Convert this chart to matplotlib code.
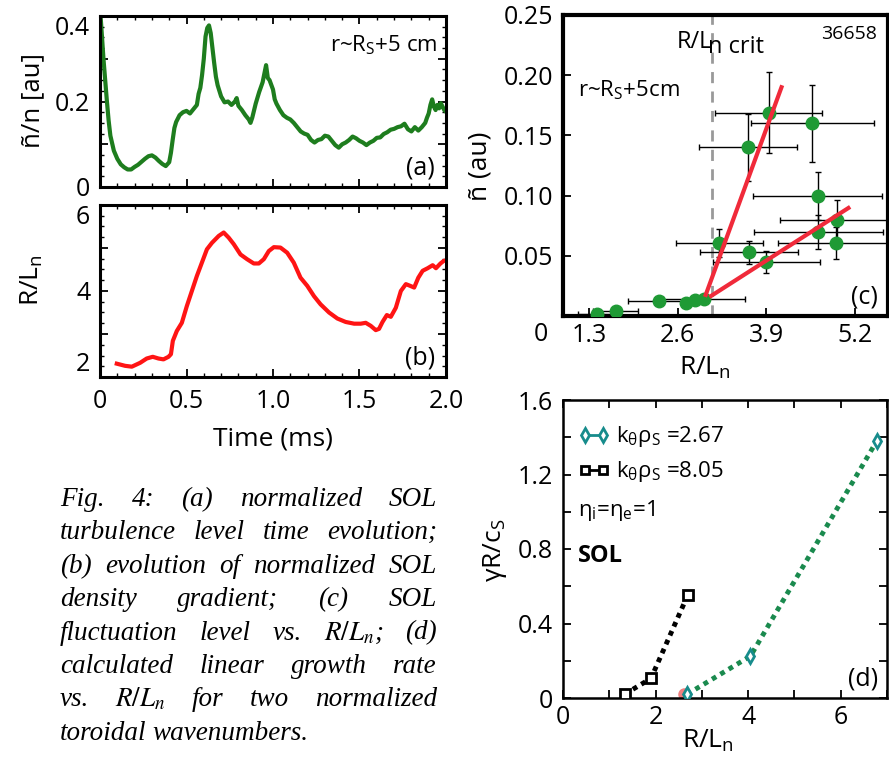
# Fig. 4 - SOL turbulence level, density gradient and growth rates

import matplotlib.pyplot as plt
from matplotlib.lines import Line2D
from matplotlib.ticker import AutoMinorLocator

plt.rcParams['font.family'] = ['Open Sans', 'DejaVu Sans']
plt.rcParams['mathtext.fontset'] = 'custom'
plt.rcParams['mathtext.rm'] = 'Open Sans'
plt.rcParams['mathtext.it'] = 'Open Sans:italic'
plt.rcParams['mathtext.bf'] = 'Open Sans:bold'
plt.rcParams['mathtext.default'] = 'regular'
plt.rcParams['xtick.direction'] = 'in'
plt.rcParams['ytick.direction'] = 'in'

# (a) normalized fluctuation level vs time
t_a = [0.00, 0.01, 0.02, 0.03, 0.04, 0.05, 0.06, 0.08, 0.10, 0.12,
       0.14, 0.16, 0.18, 0.20, 0.22, 0.24, 0.26, 0.28, 0.30, 0.32,
       0.34, 0.36, 0.38, 0.40, 0.41, 0.42, 0.43, 0.44, 0.46, 0.48,
       0.50, 0.52, 0.54, 0.56, 0.57, 0.58, 0.59, 0.60, 0.61, 0.62,
       0.63, 0.64, 0.65, 0.66, 0.67, 0.68, 0.70, 0.72, 0.74, 0.76,
       0.78, 0.79, 0.80, 0.82, 0.84, 0.86, 0.87, 0.88, 0.90, 0.92,
       0.94, 0.95, 0.96, 0.97, 0.98, 1.00, 1.01, 1.02, 1.04, 1.06,
       1.08, 1.10, 1.12, 1.14, 1.16, 1.18, 1.20, 1.22, 1.24, 1.26,
       1.28, 1.30, 1.32, 1.34, 1.36, 1.38, 1.40, 1.42, 1.44, 1.46,
       1.48, 1.50, 1.52, 1.54, 1.56, 1.58, 1.60, 1.62, 1.64, 1.66,
       1.68, 1.70, 1.72, 1.74, 1.76, 1.78, 1.80, 1.82, 1.84, 1.86,
       1.88, 1.89, 1.90, 1.91, 1.92, 1.93, 1.94, 1.95, 1.96, 1.97,
       1.98, 1.99, 2.00]
n_a = [0.42, 0.36, 0.30, 0.25, 0.20, 0.155, 0.12, 0.085, 0.066, 0.053,
       0.046, 0.041, 0.041, 0.047, 0.052, 0.059, 0.066, 0.072, 0.074, 0.069,
       0.061, 0.054, 0.049, 0.058, 0.080, 0.110, 0.138, 0.152, 0.168, 0.175,
       0.178, 0.172, 0.182, 0.192, 0.218, 0.232, 0.262, 0.300, 0.352, 0.372,
       0.378, 0.360, 0.325, 0.290, 0.258, 0.238, 0.212, 0.198, 0.200, 0.192,
       0.200, 0.208, 0.190, 0.180, 0.168, 0.158, 0.150, 0.162, 0.195, 0.222,
       0.245, 0.265, 0.285, 0.255, 0.250, 0.228, 0.205, 0.195, 0.180, 0.168,
       0.162, 0.158, 0.150, 0.140, 0.130, 0.125, 0.122, 0.110, 0.104, 0.110,
       0.112, 0.120, 0.118, 0.108, 0.098, 0.092, 0.100, 0.104, 0.110, 0.118,
       0.114, 0.108, 0.104, 0.098, 0.104, 0.108, 0.115, 0.116, 0.124, 0.128,
       0.134, 0.136, 0.140, 0.142, 0.148, 0.135, 0.130, 0.140, 0.132, 0.140,
       0.150, 0.162, 0.172, 0.192, 0.205, 0.188, 0.180, 0.192, 0.184, 0.196,
       0.188, 0.180, 0.176]

# (b) R/Ln vs time
t_b = [0.097, 0.145, 0.184, 0.232, 0.27, 0.305, 0.338, 0.367, 0.396, 0.41,
       0.421, 0.444, 0.473, 0.502, 0.531, 0.56, 0.589, 0.618, 0.647, 0.686,
       0.715, 0.744, 0.773, 0.812, 0.85, 0.889, 0.918, 0.947, 0.976, 1.005,
       1.043, 1.082, 1.12, 1.159, 1.198, 1.237, 1.275, 1.324, 1.372, 1.42,
       1.469, 1.507, 1.536, 1.565, 1.594, 1.613, 1.633, 1.658, 1.681, 1.71,
       1.739, 1.768, 1.793, 1.816, 1.84, 1.865, 1.894, 1.923, 1.942, 1.968,
       1.987, 2.0]
rln_b = [2.31, 2.26, 2.24, 2.33, 2.43, 2.47, 2.43, 2.41, 2.47, 2.53,
         2.84, 3.07, 3.26, 3.65, 4.0, 4.35, 4.66, 4.97, 5.12, 5.28,
         5.36, 5.24, 5.09, 4.85, 4.74, 4.64, 4.64, 4.74, 4.93, 5.02,
         5.01, 4.89, 4.66, 4.31, 4.12, 3.88, 3.69, 3.5, 3.36, 3.28,
         3.24, 3.24, 3.26, 3.19, 3.09, 3.12, 3.28, 3.44, 3.4, 3.61,
         4.0, 4.16, 4.12, 4.08, 4.31, 4.47, 4.53, 4.6, 4.53, 4.64,
         4.7, 4.71]

# (c) fluctuation level vs R/Ln
rln_c = [1.42, 1.69, 2.32, 2.72, 2.85, 2.98, 3.21, 3.64, 3.90, 3.63,
         3.93, 4.57, 4.65, 4.66, 4.93, 4.92]
nt_c = [0.002, 0.0045, 0.0125, 0.0106, 0.0133, 0.014, 0.0606, 0.053, 0.045, 0.14,
        0.169, 0.16, 0.10, 0.070, 0.080, 0.0606]
xerr_c = [0.28, 0.33, 0.45, 0.0, 0.0, 0.6, 0.64, 0.72, 0.78, 0.72,
          0.79, 0.9, 0.94, 0.94, 0.83, 0.85]
yerr_c = [0, 0, 0, 0, 0, 0, 0.012, 0.0095, 0.009, 0.0275,
          0.034, 0.032, 0.02, 0.014, 0.016, 0.013]
fit1_x = [3.01, 4.12]
fit1_y = [0.0175, 0.19]
fit2_x = [3.09, 5.10]
fit2_y = [0.0167, 0.0897]
rln_crit = 3.1

# (d) growth rate vs R/Ln
rln_k1 = [2.68, 4.05, 6.78]
gam_k1 = [0.02, 0.225, 1.38]
rln_k2 = [1.33, 1.9, 2.7]
gam_k2 = [0.02, 0.105, 0.555]

caption = ["Fig. 4: (a) normalized SOL",
           "turbulence level time evolution;",
           "(b) evolution of normalized SOL",
           "density gradient; (c) SOL",
           r"fluctuation level vs. $\mathit{R/L_n}$; (d)",
           "calculated linear growth rate",
           r"vs. $\mathit{R/L_n}$ for two normalized",
           "toroidal wavenumbers."]

W, H = 889, 760
fig = plt.figure(figsize=(W / 100, H / 100), dpi=100)


def box(left, top, right, bottom):
    return [left / W, 1 - bottom / H, (right - left) / W, (bottom - top) / H]


def style(ax, lw, minor=True):
    for s in ax.spines.values():
        s.set_linewidth(lw)
    ax.tick_params(which='both', top=True, right=True, labelsize=18, width=1.3, length=6, pad=7)
    if minor:
        ax.xaxis.set_minor_locator(AutoMinorLocator(5))
        ax.yaxis.set_minor_locator(AutoMinorLocator(4))
        ax.tick_params(which='minor', length=3, width=1)


def ylabel_at(text, px, py, size=19):
    # vertical axis title centred on a pixel position
    fig.text(px / W, 1 - py / H, text, rotation=90, ha='center', va='center', fontsize=size)


green = '#1e7d1e'
red = '#ff1414'

# (a)
ax_a = fig.add_axes(box(100, 16, 446, 187))
ax_a.plot(t_a, n_a, color=green, lw=3)
ax_a.set_xlim(0, 2)
ax_a.set_ylim(0, 0.4)
ax_a.set_xticks([0, 0.5, 1.0, 1.5, 2.0])
ax_a.set_xticklabels([])
ax_a.set_yticks([0, 0.1, 0.2, 0.3, 0.4])
ax_a.set_yticklabels(['0', '', '0.2', '', '0.4'])
style(ax_a, 2.2)
ax_a.get_yticklabels()[-1].set_va('top')
ylabel_at('ñ/n [au]', 33, 100, 18.5)
ax_a.text(0.974, 0.83, 'r~R$_S$+5 cm', transform=ax_a.transAxes, ha='right', va='center', fontsize=16)
ax_a.text(0.968, 0.11, '(a)', transform=ax_a.transAxes, ha='right', va='center', fontsize=18)

# (b)
ax_b = fig.add_axes(box(100, 205, 446, 377))
ax_b.plot(t_b, rln_b, color=red, lw=3)
ax_b.set_xlim(0, 2)
ax_b.set_ylim(2, 6)
ax_b.set_xticks([0, 0.5, 1.0, 1.5, 2.0])
ax_b.set_xticklabels(['0', '0.5', '1.0', '1.5', '2.0'])
ax_b.set_yticks([2, 3, 4, 5, 6])
ax_b.set_yticklabels(['2', '', '4', '', '6'])
style(ax_b, 2.2)
ax_b.get_yticklabels()[0].set_va('bottom')
ax_b.get_yticklabels()[-1].set_va('top')
ax_b.tick_params(axis='x', pad=9)
ylabel_at('R/L$_n$', 32, 280)
ax_b.set_xlabel('Time (ms)', fontsize=19)
ax_b.xaxis.set_label_coords(0.5, -0.29)
ax_b.text(0.968, 0.11, '(b)', transform=ax_b.transAxes, ha='right', va='center', fontsize=18)

# (c)
ax_c = fig.add_axes(box(563, 15, 888, 316))
ax_c.axvline(rln_crit, color='#999999', lw=2, dashes=(4, 3), zorder=1)
ax_c.errorbar(rln_c, nt_c, xerr=xerr_c, yerr=yerr_c, fmt='none', ecolor='black',
              elinewidth=1, capsize=2, capthick=1, zorder=2)
ax_c.plot(rln_c, nt_c, 'o', color='#1f9a35', ms=9, zorder=3)
ax_c.plot(fit1_x, fit1_y, color='#f02a3a', lw=3, zorder=4)
ax_c.plot(fit2_x, fit2_y, color='#f02a3a', lw=3, zorder=4)
ax_c.set_xlim(0.92, 5.68)
ax_c.set_ylim(0, 0.25)
ax_c.set_xticks([1.3, 2.6, 3.9, 5.2])
ax_c.set_xticklabels(['1.3', '2.6', '3.9', '5.2'])
ax_c.set_yticks([0.05, 0.10, 0.15, 0.20, 0.25])
ax_c.set_yticklabels(['0.05', '0.10', '0.15', '0.20', '0.25'])
style(ax_c, 3, minor=False)
ax_c.tick_params(top=False, right=False)
ax_c.tick_params(axis='x', pad=5)
ax_c.text(-0.045, -0.063, '0', transform=ax_c.transAxes, ha='right', va='center', fontsize=18)
ylabel_at('ñ (au)', 480, 166)
ax_c.set_xlabel('R/L$_n$', fontsize=19)
ax_c.xaxis.set_label_coords(0.437, -0.13)
ax_c.text(0.351, 0.89, 'R/L', transform=ax_c.transAxes, ha='left', va='baseline', fontsize=17)
ax_c.text(0.446, 0.874, 'n crit', transform=ax_c.transAxes, ha='left', va='baseline', fontsize=17)
ax_c.text(0.966, 0.937, '36658', transform=ax_c.transAxes, ha='right', va='center', fontsize=14)
ax_c.text(0.046, 0.75, 'r~R$_S$+5cm', transform=ax_c.transAxes, ha='left', va='center', fontsize=16)
ax_c.text(0.969, 0.063, '(c)', transform=ax_c.transAxes, ha='right', va='center', fontsize=18)

# (d)
teal = '#178c8c'
ax_d = fig.add_axes(box(563, 400, 887, 698))
ax_d.plot([2.62], [0.02], 'o', color='#f08080', ms=8, zorder=2)
ax_d.plot(rln_k1, gam_k1, color='#1a8a4e', lw=3.5, dashes=(1, 1), zorder=1)
ax_d.plot(rln_k1, gam_k1, 'd', ms=7, mfc='white', mec=teal, mew=2, zorder=3)
ax_d.plot(rln_k2, gam_k2, color='black', lw=3.5, dashes=(1, 1), zorder=1)
ax_d.plot(rln_k2, gam_k2, 's', ms=7, mfc='white', mec='black', mew=2, zorder=3)
ax_d.set_xlim(0, 7)
ax_d.set_ylim(0, 1.6)
ax_d.set_xticks(range(8))
ax_d.set_xticklabels(['0', '', '2', '', '4', '', '6', ''])
ax_d.set_yticks([0, 0.2, 0.4, 0.6, 0.8, 1.0, 1.2, 1.4, 1.6])
ax_d.set_yticklabels(['0', '', '0.4', '', '0.8', '', '1.2', '', '1.6'])
style(ax_d, 1.8, minor=False)
ax_d.tick_params(axis='x', pad=5)
ylabel_at('γR/c$_S$', 495, 550)
ax_d.set_xlabel('R/L$_n$', fontsize=19)
ax_d.xaxis.set_label_coords(0.447, -0.1)
handles = [Line2D([], [], color=teal, lw=2, marker='d', ms=7, mfc='white', mec=teal, mew=2),
           Line2D([], [], color='black', lw=2, marker='s', ms=6, mfc='white', mec='black', mew=2)]
ax_d.legend(handles, ['k$_θ$ρ$_S$ =2.67', 'k$_θ$ρ$_S$ =8.05'], loc='upper left',
            bbox_to_anchor=(0.0, 0.97), frameon=False, fontsize=16, numpoints=2,
            handlelength=1.4, handletextpad=0.3, labelspacing=0.45, borderaxespad=0.3)
ax_d.text(0.045, 0.63, 'η$_i$=η$_e$=1', transform=ax_d.transAxes, ha='left', va='center', fontsize=16)
ax_d.text(0.045, 0.476, 'SOL', transform=ax_d.transAxes, ha='left', va='center', fontsize=17,
          fontweight='bold')
ax_d.text(0.972, 0.064, '(d)', transform=ax_d.transAxes, ha='right', va='center', fontsize=18)

# caption, justified between two edges
fig.canvas.draw()
rend = fig.canvas.get_renderer()
cap_kw = dict(fontsize=19.5, family='Liberation Serif', style='italic', va='baseline',
              math_fontfamily='stix')
x_left, x_right = 60 / W, 437 / W
for i, line in enumerate(caption):
    y = 1 - (506 + 33.4 * i) / H
    words = line.split(' ')
    texts = [fig.text(0, y, w, **cap_kw) for w in words]
    widths = [t.get_window_extent(rend).width / W for t in texts]
    if i == len(caption) - 1:
        gap = 6 / W
    else:
        gap = (x_right - x_left - sum(widths)) / (len(words) - 1)
    x = x_left
    for t, w in zip(texts, widths):
        t.set_x(x)
        x += w + gap

fig.savefig('out.png', dpi=100)
